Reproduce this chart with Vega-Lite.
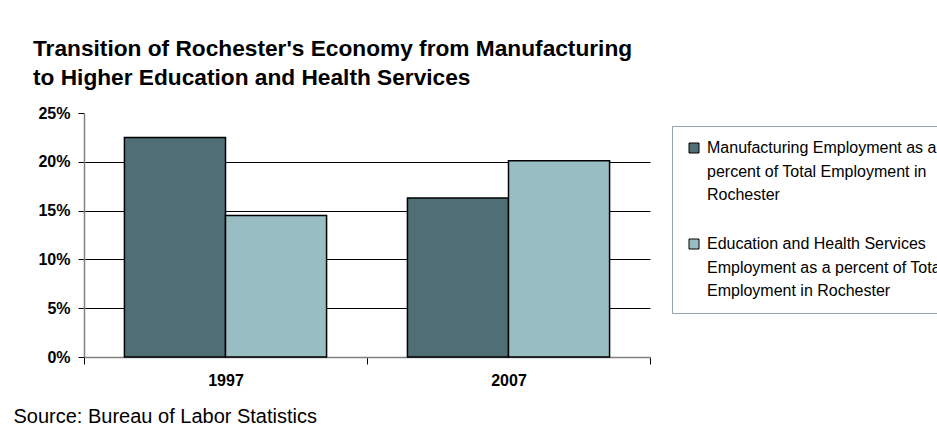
{
  "$schema": "https://vega.github.io/schema/vega-lite/v6.json",
  "width": 566,
  "height": 244,
  "padding": {"left": 13, "top": 38, "right": 0, "bottom": 0},
  "background": "white",
  "config": {
    "font": "Liberation Sans",
    "view": {"stroke": null}
  },
  "title": {
    "text": ["Transition of Rochester's Economy from Manufacturing", "to Higher Education and Health Services"],
    "font": "Liberation Sans",
    "fontSize": 22.7,
    "fontWeight": "bold",
    "color": "black",
    "anchor": "start",
    "frame": "group",
    "dx": -51,
    "lineHeight": 29,
    "offset": 15
  },
  "data": {
    "values": [
      {"year": "1997", "series": "Manufacturing", "value": 0.225},
      {"year": "1997", "series": "Education", "value": 0.145},
      {"year": "2007", "series": "Manufacturing", "value": 0.163},
      {"year": "2007", "series": "Education", "value": 0.201}
    ]
  },
  "mark": {"type": "bar", "stroke": "black", "strokeWidth": 1.5},
  "encoding": {
    "x": {
      "field": "year",
      "type": "nominal",
      "scale": {"paddingInner": 0, "paddingOuter": 0},
      "axis": {
        "labelAngle": 0,
        "labelFontSize": 16,
        "labelFontWeight": "bold",
        "labelColor": "black",
        "labelPadding": 8,
        "tickBand": "extent",
        "tickSize": 7,
        "tickColor": "black",
        "domainColor": "#808080",
        "domainWidth": 1.5,
        "title": "Source: Bureau of Labor Statistics",
        "titleFont": "Liberation Sans",
        "titleFontSize": 20,
        "titleFontWeight": "normal",
        "titleColor": "black",
        "titleAlign": "left",
        "titleAnchor": "start",
        "titleBaseline": "alphabetic",
        "titleX": -71,
        "titleY": 65
      }
    },
    "xOffset": {
      "field": "series",
      "type": "nominal",
      "sort": ["Manufacturing", "Education"],
      "scale": {"paddingInner": 0, "paddingOuter": 0.4}
    },
    "y": {
      "field": "value",
      "type": "quantitative",
      "scale": {"domain": [0, 0.25], "nice": false},
      "axis": {
        "values": [0, 0.05, 0.1, 0.15, 0.2, 0.25],
        "format": ".0%",
        "title": null,
        "labelFontSize": 16,
        "labelFontWeight": "bold",
        "labelColor": "black",
        "labelPadding": 8,
        "tickSize": 6,
        "tickColor": "black",
        "domainColor": "#808080",
        "domainWidth": 1.5,
        "grid": true,
        "gridColor": "black",
        "gridWidth": 1,
        "gridOpacity": {"condition": {"test": "datum.value == 0 || datum.value == 0.25", "value": 0}, "value": 1}
      }
    },
    "color": {
      "field": "series",
      "type": "nominal",
      "sort": ["Manufacturing", "Education"],
      "scale": {"domain": ["Manufacturing", "Education"], "range": ["#4f6e76", "#98bec3"]},
      "legend": {
        "title": null,
        "orient": "none",
        "legendX": 588,
        "legendY": 13,
        "symbolType": "square",
        "symbolSize": 100,
        "symbolStrokeColor": "black",
        "symbolStrokeWidth": 1,
        "symbolOpacity": 1,
        "labelFont": "Liberation Sans",
        "labelFontSize": 16,
        "labelColor": "black",
        "labelLimit": 400,
        "labelOffset": 5,
        "labelExpr": "datum.value == 'Manufacturing' ? ['Manufacturing Employment as a', 'percent of Total Employment in', 'Rochester'] : ['Education and Health Services', 'Employment as a percent of Total', 'Employment in Rochester']",
        "padding": 14,
        "rowPadding": 33,
        "strokeColor": "#8fa6ae",
        "fillColor": "white",
        "encoding": {
          "labels": {"lineHeight": {"value": 23.5}}
        }
      }
    }
  }
}
